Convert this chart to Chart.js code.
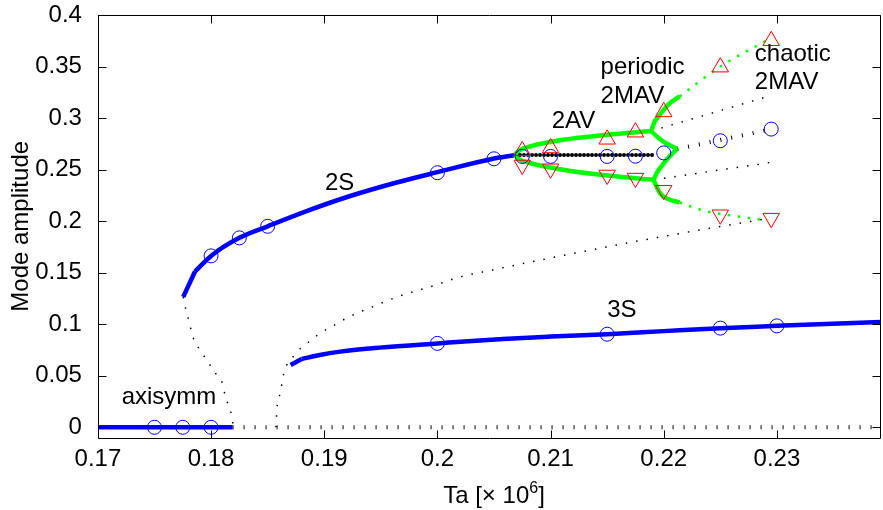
<!DOCTYPE html>
<html lang="en">
<head>
  <meta charset="UTF-8">
  <title>Mode amplitude vs Ta</title>
  <script src="https://cdn.jsdelivr.net/npm/chart.js"></script>
  <style>
    body {
      margin: 0;
      background: #ffffff;
    }
    #wrap {
      width: 883px;
      height: 510px;
    }
  </style>
</head>
<body>
  <div id="wrap"><canvas id="modeChart" width="883" height="510"></canvas></div>

  <script>
    // ticks
    const xTicks = [0.17, 0.18, 0.19, 0.2, 0.21, 0.22, 0.23];
    const xTickLabels = ['0.17', '0.18', '0.19', '0.2', '0.21', '0.22', '0.23'];
    const yTicks = [0, 0.05, 0.1, 0.15, 0.2, 0.25, 0.3, 0.35, 0.4];
    const yTickLabels = ['0', '0.05', '0.1', '0.15', '0.2', '0.25', '0.3', '0.35', '0.4'];

    // axisymmetric branch
    const axiStableX = [0.17, 0.1819];
    const axiStableY = [0, 0];
    const axiUnstableX = [0.1819, 0.2392];
    const axiUnstableY = [0, 0];
    const axiMarkX = [0.175, 0.1775, 0.18];
    const axiMarkY = [0, 0, 0];

    // 2S branch
    const s2KinkX = [0.17754, 0.17858];
    const s2KinkY = [0.1265, 0.1511];
    const s2StableX = [0.17858, 0.18, 0.1825, 0.185, 0.1885, 0.1923, 0.1964, 0.2, 0.205, 0.2068];
    const s2StableY = [0.1511, 0.1663, 0.1838, 0.1950, 0.2100, 0.2244, 0.2375, 0.2475, 0.2608, 0.2640];
    const s2UnstableX = [0.17754, 0.17778, 0.17802, 0.17825, 0.17852, 0.17902, 0.18049, 0.18102, 0.18123, 0.18152, 0.18182, 0.18196];
    const s2UnstableY = [0.1265, 0.1139, 0.1042, 0.0938, 0.0838, 0.0751, 0.0508, 0.0420, 0.0314, 0.0217, 0.0113, 0];
    const s2MarkX = [0.18, 0.1825, 0.185, 0.2, 0.205];
    const s2MarkY = [0.1663, 0.1838, 0.1950, 0.2470, 0.2605];

    // 3S branch
    const s3KinkX = [0.18703, 0.188];
    const s3KinkY = [0.0605, 0.0663];
    const s3StableX = [0.188, 0.1896, 0.1914, 0.1949, 0.2, 0.2058, 0.21, 0.215, 0.22, 0.225, 0.23, 0.2392];
    const s3StableY = [0.0663, 0.0702, 0.0734, 0.0773, 0.0814, 0.0857, 0.0880, 0.0903, 0.0933, 0.0962, 0.0984, 0.1022];
    const s3UnstableX = [0.18573, 0.18585, 0.18609, 0.18626, 0.18644, 0.18741, 0.18809, 0.18889, 0.18962, 0.1905, 0.19218, 0.19395, 0.19663, 0.1994, 0.20214, 0.2049, 0.207, 0.2183, 0.2294];
    const s3UnstableY = [0, 0.0217, 0.0323, 0.0423, 0.053, 0.0705, 0.0783, 0.0848, 0.0913, 0.0967, 0.1071, 0.1155, 0.1272, 0.1365, 0.1462, 0.1527, 0.1576, 0.1819, 0.2029];
    const s3MarkX = [0.2, 0.215, 0.225, 0.23];
    const s3MarkY = [0.0814, 0.0903, 0.0962, 0.0984];

    // 2AV branch
    const avUpperX = [0.20684, 0.2072, 0.20817, 0.2111, 0.215, 0.2189];
    const avUpperY = [0.2644, 0.2685, 0.2724, 0.2789, 0.2838, 0.2874];
    const avLowerX = [0.20684, 0.2072, 0.20817, 0.2111, 0.215, 0.2191];
    const avLowerY = [0.2644, 0.2603, 0.2564, 0.2499, 0.2442, 0.2401];
    const avCoreX = [0.2073, 0.2191];
    const avCoreY = [0.2642, 0.2642];

    // periodic 2MAV (green arms)
    const pmUpArmX = [0.2189, 0.2192, 0.21966, 0.2204, 0.2214];
    const pmUpArmY = [0.2874, 0.2967, 0.3032, 0.3130, 0.3210];
    const pmUpCuspX = [0.2189, 0.2194, 0.2200, 0.2207, 0.2212];
    const pmUpCuspY = [0.2874, 0.2820, 0.2770, 0.2727, 0.2700];
    const pmLoCuspX = [0.2191, 0.2194, 0.2200, 0.2207, 0.2212];
    const pmLoCuspY = [0.2401, 0.2470, 0.2560, 0.2650, 0.2700];
    const pmLoArmX = [0.2191, 0.21936, 0.21966, 0.2204, 0.2214];
    const pmLoArmY = [0.2401, 0.2336, 0.2272, 0.2214, 0.2181];

    // chaotic 2MAV (green dotted)
    const chUpX = [0.2214, 0.2250, 0.2292];
    const chUpY = [0.3210, 0.3500, 0.3760];
    const chLoX = [0.2214, 0.2235, 0.2256, 0.2292];
    const chLoY = [0.2181, 0.2103, 0.2061, 0.2006];

    // unstable continuations (black dotted)
    const unUpX = [0.2189, 0.2292];
    const unUpY = [0.2874, 0.3210];
    const unMidX = [0.2212, 0.2290];
    const unMidY = [0.2700, 0.2880];
    const unLoX = [0.2191, 0.2294];
    const unLoY = [0.2401, 0.2569];

    // markers of the 2AV / 2MAV simulations
    const simX = [0.2075, 0.21, 0.215, 0.2175, 0.22, 0.225, 0.2295];
    const simMidY = [0.2628, 0.2628, 0.2628, 0.2630, 0.2662, 0.2780, 0.2893];
    const simMaxY = [0.2682, 0.2710, 0.2794, 0.2863, 0.3060, 0.3494, 0.3750];
    const simMinY = [0.2545, 0.2508, 0.2448, 0.2418, 0.2300, 0.2062, 0.2029];

    const FONT = "'Liberation Sans', Arial, Helvetica, sans-serif";
    const BLUE = '#0000ff';
    const GREEN = '#00ff00';
    const RED = '#ff0000';

    const pts = (xs, ys) => xs.map((v, i) => ({ x: v, y: ys[i] }));

    function line(xs, ys, color, width, extra) {
      return Object.assign({
        data: pts(xs, ys),
        showLine: true,
        borderColor: color,
        borderWidth: width,
        pointRadius: 0,
        pointHoverRadius: 0,
        fill: false,
        cubicInterpolationMode: 'monotone'
      }, extra || {});
    }

    function marks(xs, ys, color, style, radius, rotation) {
      return {
        data: pts(xs, ys),
        showLine: false,
        pointStyle: style,
        pointRadius: radius,
        pointHoverRadius: radius,
        pointBorderColor: color,
        pointBorderWidth: 1,
        pointBackgroundColor: 'rgba(0,0,0,0)',
        pointRotation: rotation || 0
      };
    }

    const barDots = { borderDash: [1, 10], borderWidth: 4, borderCapStyle: 'butt' };
    const fineDots = { borderDash: [1.5, 9], borderWidth: 1.5 };
    const roundDots = { borderDash: [0, 4], borderWidth: 4, borderCapStyle: 'round' };
    const greenDash = { borderDash: [2.5, 7.5], borderWidth: 2.5 };

    const datasets = [
      // markers on top
      marks(simX, simMaxY, RED, 'triangle', 9.5, 0),
      marks(simX, simMinY, RED, 'triangle', 9.5, 180),
      marks(simX, simMidY, BLUE, 'circle', 7),
      marks(axiMarkX, axiMarkY, BLUE, 'circle', 7),
      marks(s2MarkX, s2MarkY, BLUE, 'circle', 7),
      marks(s3MarkX, s3MarkY, BLUE, 'circle', 7),
      // 2AV core
      line(avCoreX, avCoreY, '#000000', 4, roundDots),
      // green branches
      line(avUpperX, avUpperY, GREEN, 4.5),
      line(avLowerX, avLowerY, GREEN, 4.5),
      line(pmUpArmX, pmUpArmY, GREEN, 4.5),
      line(pmUpCuspX, pmUpCuspY, GREEN, 4.5),
      line(pmLoCuspX, pmLoCuspY, GREEN, 4.5),
      line(pmLoArmX, pmLoArmY, GREEN, 4.5),
      line(chUpX, chUpY, GREEN, 2.5, greenDash),
      line(chLoX, chLoY, GREEN, 2.5, greenDash),
      // unstable
      line(unUpX, unUpY, '#000000', 1.5, fineDots),
      line(unMidX, unMidY, '#000000', 5, barDots),
      line(unLoX, unLoY, '#000000', 1.5, fineDots),
      line(s3UnstableX, s3UnstableY, '#000000', 1.5, fineDots),
      line(s2UnstableX, s2UnstableY, '#000000', 1.5, fineDots),
      line(axiUnstableX, axiUnstableY, '#000000', 4, barDots),
      // stable blue branches
      line(s2KinkX, s2KinkY, BLUE, 4.5, { cubicInterpolationMode: 'default', tension: 0 }),
      line(s2StableX, s2StableY, BLUE, 4.5),
      line(s3KinkX, s3KinkY, BLUE, 4.5, { cubicInterpolationMode: 'default', tension: 0 }),
      line(s3StableX, s3StableY, BLUE, 4.5),
      line(axiStableX, axiStableY, BLUE, 4.5, { cubicInterpolationMode: 'default', tension: 0 })
    ];

    // text placed in data coordinates (left edge, baseline)
    const notes = [
      { text: '2S', x: 0.19006, y: 0.2304 },
      { text: '3S', x: 0.2150, y: 0.1074 },
      { text: 'axisymm', x: 0.1721, y: 0.0226 },
      { text: '2AV', x: 0.2101, y: 0.2902 },
      { text: 'periodic', x: 0.21442, y: 0.3427 },
      { text: '2MAV', x: 0.21442, y: 0.3151 },
      { text: 'chaotic', x: 0.22805, y: 0.3550 },
      { text: '2MAV', x: 0.22805, y: 0.3280 }
    ];

    const matlabAxes = {
      id: 'matlabAxes',
      afterDraw(chart) {
        const { ctx, chartArea: a } = chart;
        const xs = chart.scales.x;
        const ys = chart.scales.y;
        const L = Math.round(a.left) + 0.5;
        const R = Math.round(a.right) - 0.5;
        const T = Math.round(a.top) + 0.5;
        const B = Math.round(a.bottom) + 0.5;

        ctx.save();
        ctx.strokeStyle = '#000000';
        ctx.lineWidth = 1;
        ctx.beginPath();
        ctx.moveTo(L, T); ctx.lineTo(R, T); ctx.lineTo(R, B); ctx.lineTo(L, B); ctx.closePath();
        xTicks.forEach(v => {
          const px = Math.round(xs.getPixelForValue(v)) + 0.5;
          ctx.moveTo(px, B); ctx.lineTo(px, B - 8);
          ctx.moveTo(px, T); ctx.lineTo(px, T + 8);
        });
        yTicks.forEach(v => {
          const py = Math.round(ys.getPixelForValue(v)) + 0.5;
          ctx.moveTo(L, py); ctx.lineTo(L + 8, py);
          ctx.moveTo(R, py); ctx.lineTo(R - 8, py);
        });
        ctx.stroke();

        ctx.fillStyle = '#000000';
        ctx.font = '24px ' + FONT;

        // tick labels
        ctx.textAlign = 'center';
        ctx.textBaseline = 'alphabetic';
        xTicks.forEach((v, i) => ctx.fillText(xTickLabels[i], xs.getPixelForValue(v), 466));
        ctx.textAlign = 'right';
        ctx.textBaseline = 'middle';
        yTicks.forEach((v, i) => ctx.fillText(yTickLabels[i], a.left - 16, ys.getPixelForValue(v)));

        // annotations
        ctx.textAlign = 'left';
        ctx.textBaseline = 'alphabetic';
        notes.forEach(n => ctx.fillText(n.text, xs.getPixelForValue(n.x), ys.getPixelForValue(n.y)));

        // y title
        ctx.save();
        ctx.translate(28, (a.top + a.bottom) / 2);
        ctx.rotate(-Math.PI / 2);
        ctx.textAlign = 'center';
        ctx.fillText('Mode amplitude', 0, 0);
        ctx.restore();

        // x title: Ta [× 10^6]
        const main = 'Ta [\u00d7 10';
        const sup = '6';
        const close = ']';
        ctx.font = '24px ' + FONT;
        const w1 = ctx.measureText(main).width;
        const w3 = ctx.measureText(close).width;
        ctx.font = '16px ' + FONT;
        const w2 = ctx.measureText(sup).width;
        const total = w1 + w2 + w3;
        let x0 = 494 - total / 2;
        ctx.textAlign = 'left';
        ctx.font = '24px ' + FONT;
        ctx.fillText(main, x0, 503);
        ctx.font = '16px ' + FONT;
        ctx.fillText(sup, x0 + w1, 493);
        ctx.font = '24px ' + FONT;
        ctx.fillText(close, x0 + w1 + w2, 503);
        ctx.restore();
      }
    };

    const ctx = document.getElementById('modeChart').getContext('2d');
    const modeChart = new Chart(ctx, {
      type: 'scatter',
      data: { datasets: datasets },
      options: {
        responsive: false,
        animation: false,
        devicePixelRatio: 1,
        layout: { autoPadding: false, padding: { top: 15, right: 2, left: 0, bottom: 0 } },
        plugins: {
          legend: { display: false },
          tooltip: { enabled: false }
        },
        scales: {
          x: {
            type: 'linear',
            min: 0.17,
            max: 0.2392,
            ticks: { display: false },
            grid: { display: false },
            border: { display: false },
            afterFit: s => { s.height = 72.4; }
          },
          y: {
            type: 'linear',
            min: -0.01,
            max: 0.4,
            ticks: { display: false },
            grid: { display: false },
            border: { display: false },
            afterFit: s => { s.width = 97.9; }
          }
        }
      },
      plugins: [matlabAxes]
    });
  </script>
</body>
</html>
